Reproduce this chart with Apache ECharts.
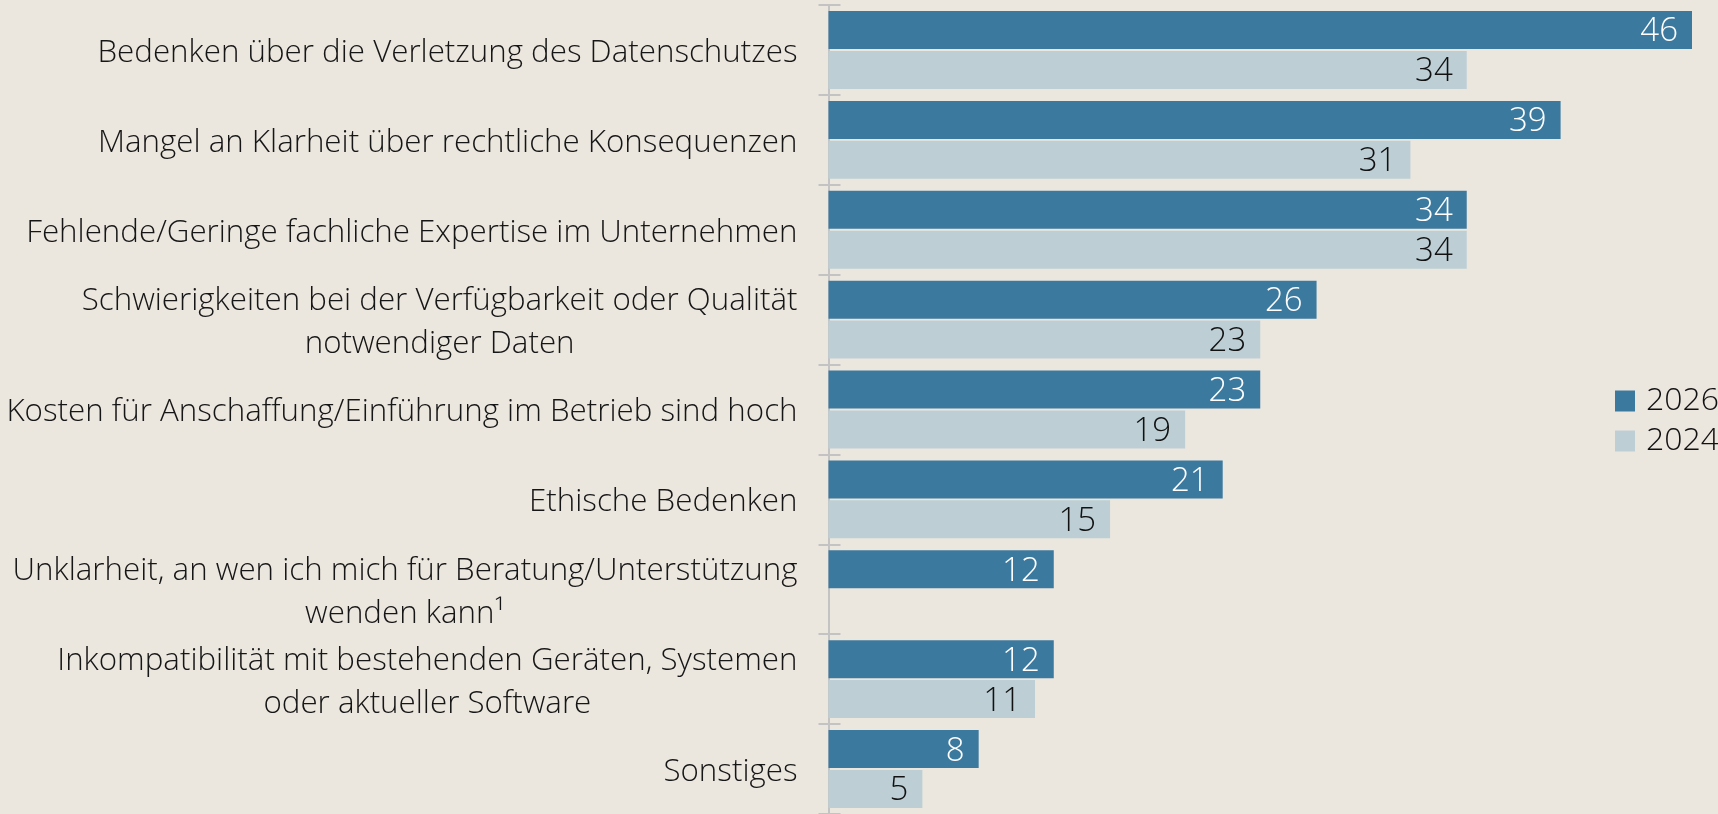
<!DOCTYPE html>
<html>
<head>
<meta charset="utf-8">
<script src="https://cdn.jsdelivr.net/npm/echarts@6/dist/echarts.min.js"></script>
<style>
  html, body { margin: 0; padding: 0; background: #ebe7df; }
  #chart { width: 1718px; height: 814px; }
</style>
</head>
<body>
<div id="chart"></div>
<script>
// categories, top to bottom
const categories = [
  'Bedenken über die Verletzung des Datenschutzes',
  'Mangel an Klarheit über rechtliche Konsequenzen',
  'Fehlende/Geringe fachliche Expertise im Unternehmen',
  'Schwierigkeiten bei der Verfügbarkeit oder Qualität\nnotwendiger Daten',
  'Kosten für Anschaffung/Einführung im Betrieb sind hoch',
  'Ethische Bedenken',
  'Unklarheit, an wen ich mich für Beratung/Unterstützung\nwenden kann¹',
  'Inkompatibilität mit bestehenden Geräten, Systemen\noder aktueller Software',
  'Sonstiges'
]
const values2026 = [46, 39, 34, 26, 23, 21, 12, 12, 8]
const values2024 = [34, 31, 34, 23, 19, 15, null, 11, 5]
const seriesNames = ['2026', '2024']

const font = '"Open Sans", "Noto Sans", sans-serif'
const darkBlue = '#3c799e'
const lightBlue = '#bdcfd5'
const tickColor = '#c3c3c3'

const chart = echarts.init(document.getElementById('chart'))

function barLabel(color) {
  return {
    show: true,
    position: 'insideRight',
    distance: 14,
    color: color,
    fontFamily: font,
    fontWeight: 300,
    fontSize: 33,
    offset: [0, 2]
  }
}

chart.setOption({
  backgroundColor: '#ebe7df',
  animation: false,
  grid: {
    left: 828.5,
    right: 26,
    top: 5,
    bottom: -1,
    containLabel: false
  },
  legend: {
    data: seriesNames,
    orient: 'vertical',
    left: 1610,
    top: 378,
    itemWidth: 20,
    itemHeight: 21,
    itemGap: 4,
    icon: 'rect',
    textStyle: {
      fontFamily: font,
      fontWeight: 300,
      fontSize: 32,
      lineHeight: 36,
      color: '#111',
      padding: [0, 0, 0, 6]
    }
  },
  xAxis: {
    type: 'value',
    min: 0,
    max: 46,
    show: false
  },
  yAxis: [
    {
      type: 'category',
      data: categories,
      inverse: true,
      axisLine: { show: true, lineStyle: { color: tickColor, width: 2 } },
      axisTick: { show: true, interval: 0, length: 10, lineStyle: { color: tickColor, width: 2 } },
      axisLabel: {
        interval: 0,
        margin: 31,
        align: 'right',
        padding: [6, 0, 0, 0],
        formatter: (value) => value.split('\n').map(s => '{c|' + s + '}').join('\n'),
        rich: {
          c: {
            align: 'center',
            fontFamily: font,
            fontWeight: 300,
            fontSize: 31.3,
            lineHeight: 43,
            color: '#161616'
          }
        }
      }
    },
    {
      // inner half of the tick marks
      type: 'category',
      data: categories,
      inverse: true,
      position: 'left',
      axisLine: { show: false },
      axisTick: { show: true, interval: 0, inside: true, length: 12, lineStyle: { color: tickColor, width: 2 } },
      axisLabel: { show: false }
    }
  ],
  series: [
    {
      name: seriesNames[0],
      type: 'bar',
      yAxisIndex: 0,
      data: values2026,
      barWidth: 38,
      barGap: '5%',
      itemStyle: { color: darkBlue },
      label: barLabel('#ffffff')
    },
    {
      name: seriesNames[1],
      type: 'bar',
      yAxisIndex: 0,
      data: values2024,
      barWidth: 38,
      barGap: '5%',
      itemStyle: { color: lightBlue },
      label: barLabel('#111111')
    }
  ]
})
</script>
</body>
</html>
